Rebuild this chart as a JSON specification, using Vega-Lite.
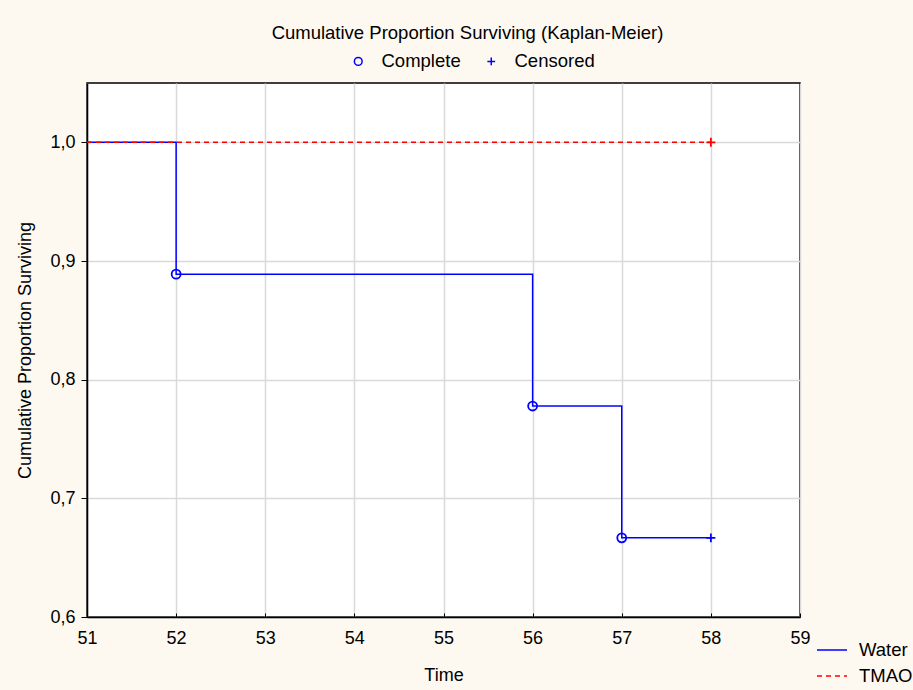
{
  "$schema": "https://vega.github.io/schema/vega-lite/v6.json",
  "width": 713,
  "height": 534,
  "autosize": "none",
  "padding": {"left": 87, "top": 83, "right": 113, "bottom": 73},
  "background": "#FDF9F0",
  "title": {
    "text": "Cumulative Proportion Surviving (Kaplan-Meier)",
    "anchor": "middle",
    "fontSize": 18.5,
    "fontWeight": "normal",
    "font": "Liberation Sans",
    "color": "#000000",
    "offset": 10,
    "dx": 24
  },
  "config": {
    "view": {"stroke": "#000000", "strokeWidth": 1.5, "fill": "#FFFFFF"},
    "font": "Liberation Sans",
    "axis": {
      "labelFont": "Liberation Sans",
      "titleFont": "Liberation Sans",
      "labelFontSize": 18,
      "titleFontSize": 18,
      "titleFontWeight": "normal",
      "labelColor": "#000000",
      "titleColor": "#000000",
      "domainColor": "#000000",
      "tickColor": "#000000",
      "gridColor": "#D9D9D9",
      "gridWidth": 1.5
    },
    "legend": {"labelFont": "Liberation Sans", "labelFontSize": 18.5, "labelColor": "#000000"}
  },
  "datasets": {
    "curves": [
      {"series": "Water", "time": 51, "surv": 1.0},
      {"series": "Water", "time": 52, "surv": 0.8889},
      {"series": "Water", "time": 56, "surv": 0.7778},
      {"series": "Water", "time": 57, "surv": 0.6667},
      {"series": "Water", "time": 58, "surv": 0.6667},
      {"series": "TMAO", "time": 51, "surv": 1.0},
      {"series": "TMAO", "time": 58, "surv": 1.0}
    ],
    "events": [
      {"series": "Water", "event": "Complete", "time": 52, "surv": 0.8889},
      {"series": "Water", "event": "Complete", "time": 56, "surv": 0.7778},
      {"series": "Water", "event": "Complete", "time": 57, "surv": 0.6667},
      {"series": "Water", "event": "Censored", "time": 58, "surv": 0.6667},
      {"series": "TMAO", "event": "Censored", "time": 58, "surv": 1.0}
    ]
  },
  "encoding": {
    "x": {
      "field": "time",
      "type": "quantitative",
      "scale": {"domain": [51, 59], "nice": false, "zero": false},
      "axis": {
        "title": "Time",
        "values": [51, 52, 53, 54, 55, 56, 57, 58, 59],
        "tickSize": -4,
        "labelPadding": 16,
        "labelFlush": false,
        "titlePadding": 19,
        "grid": true,
        "domainWidth": 1.5
      }
    },
    "y": {
      "field": "surv",
      "type": "quantitative",
      "scale": {"domain": [0.6, 1.05], "nice": false, "zero": false},
      "axis": {
        "title": "Cumulative Proportion Surviving",
        "values": [0.6, 0.7, 0.8, 0.9, 1.0],
        "labelExpr": "replace(format(datum.value, '.1f'), '.', ',')",
        "tickSize": 6,
        "labelPadding": 6,
        "labelFlush": false,
        "titlePadding": 15,
        "grid": true,
        "domainWidth": 1.5
      }
    }
  },
  "layer": [
    {
      "data": {"name": "curves"},
      "transform": [{"filter": "datum.series === 'Water'"}],
      "mark": {"type": "line", "interpolate": "step-after", "strokeWidth": 1.5},
      "encoding": {
        "color": {
          "field": "series",
          "type": "nominal",
          "scale": {"domain": ["Water", "TMAO"], "range": ["#0000FF", "#FF0000"]},
          "legend": {
            "title": null,
            "orient": "none",
            "legendX": 729,
            "legendY": 551,
            "symbolType": "stroke",
            "symbolSize": 900,
            "symbolStrokeWidth": 1.5,
            "rowPadding": -14,
            "labelOffset": 11
          }
        },
        "strokeDash": {
          "field": "series",
          "type": "nominal",
          "scale": {"domain": ["Water", "TMAO"], "range": [[1, 0], [5, 4]]},
          "legend": {
            "title": null,
            "orient": "none",
            "legendX": 729,
            "legendY": 551,
            "symbolType": "stroke",
            "symbolSize": 900,
            "symbolStrokeWidth": 1.5,
            "rowPadding": -14,
            "labelOffset": 11
          }
        }
      }
    },
    {
      "data": {"name": "curves"},
      "transform": [{"filter": "datum.series === 'TMAO'"}],
      "mark": {"type": "line", "interpolate": "step-after", "strokeWidth": 1.5},
      "encoding": {
        "color": {"field": "series", "type": "nominal"},
        "strokeDash": {"field": "series", "type": "nominal"}
      }
    },
    {
      "data": {"name": "events"},
      "mark": {"type": "point", "filled": false, "strokeWidth": 1.8, "size": 80, "opacity": 1},
      "encoding": {
        "stroke": {
          "field": "series",
          "type": "nominal",
          "scale": {"domain": ["Water", "TMAO"], "range": ["#0000FF", "#FF0000"]},
          "legend": null
        },
        "shape": {
          "field": "event",
          "type": "nominal",
          "scale": {"domain": ["Complete", "Censored"], "range": ["circle", "M-1,0H1M0,-1V1"]},
          "legend": {
            "title": null,
            "orient": "none",
            "direction": "horizontal",
            "legendX": 262,
            "legendY": -31,
            "symbolStrokeColor": "#0000FF",
            "symbolFillColor": "transparent",
            "symbolStrokeWidth": 1.5,
            "symbolSize": 60,
            "labelOffset": 14,
            "columnPadding": 21
          }
        }
      }
    }
  ],
  "resolve": {"scale": {"color": "shared", "strokeDash": "shared"}}
}
